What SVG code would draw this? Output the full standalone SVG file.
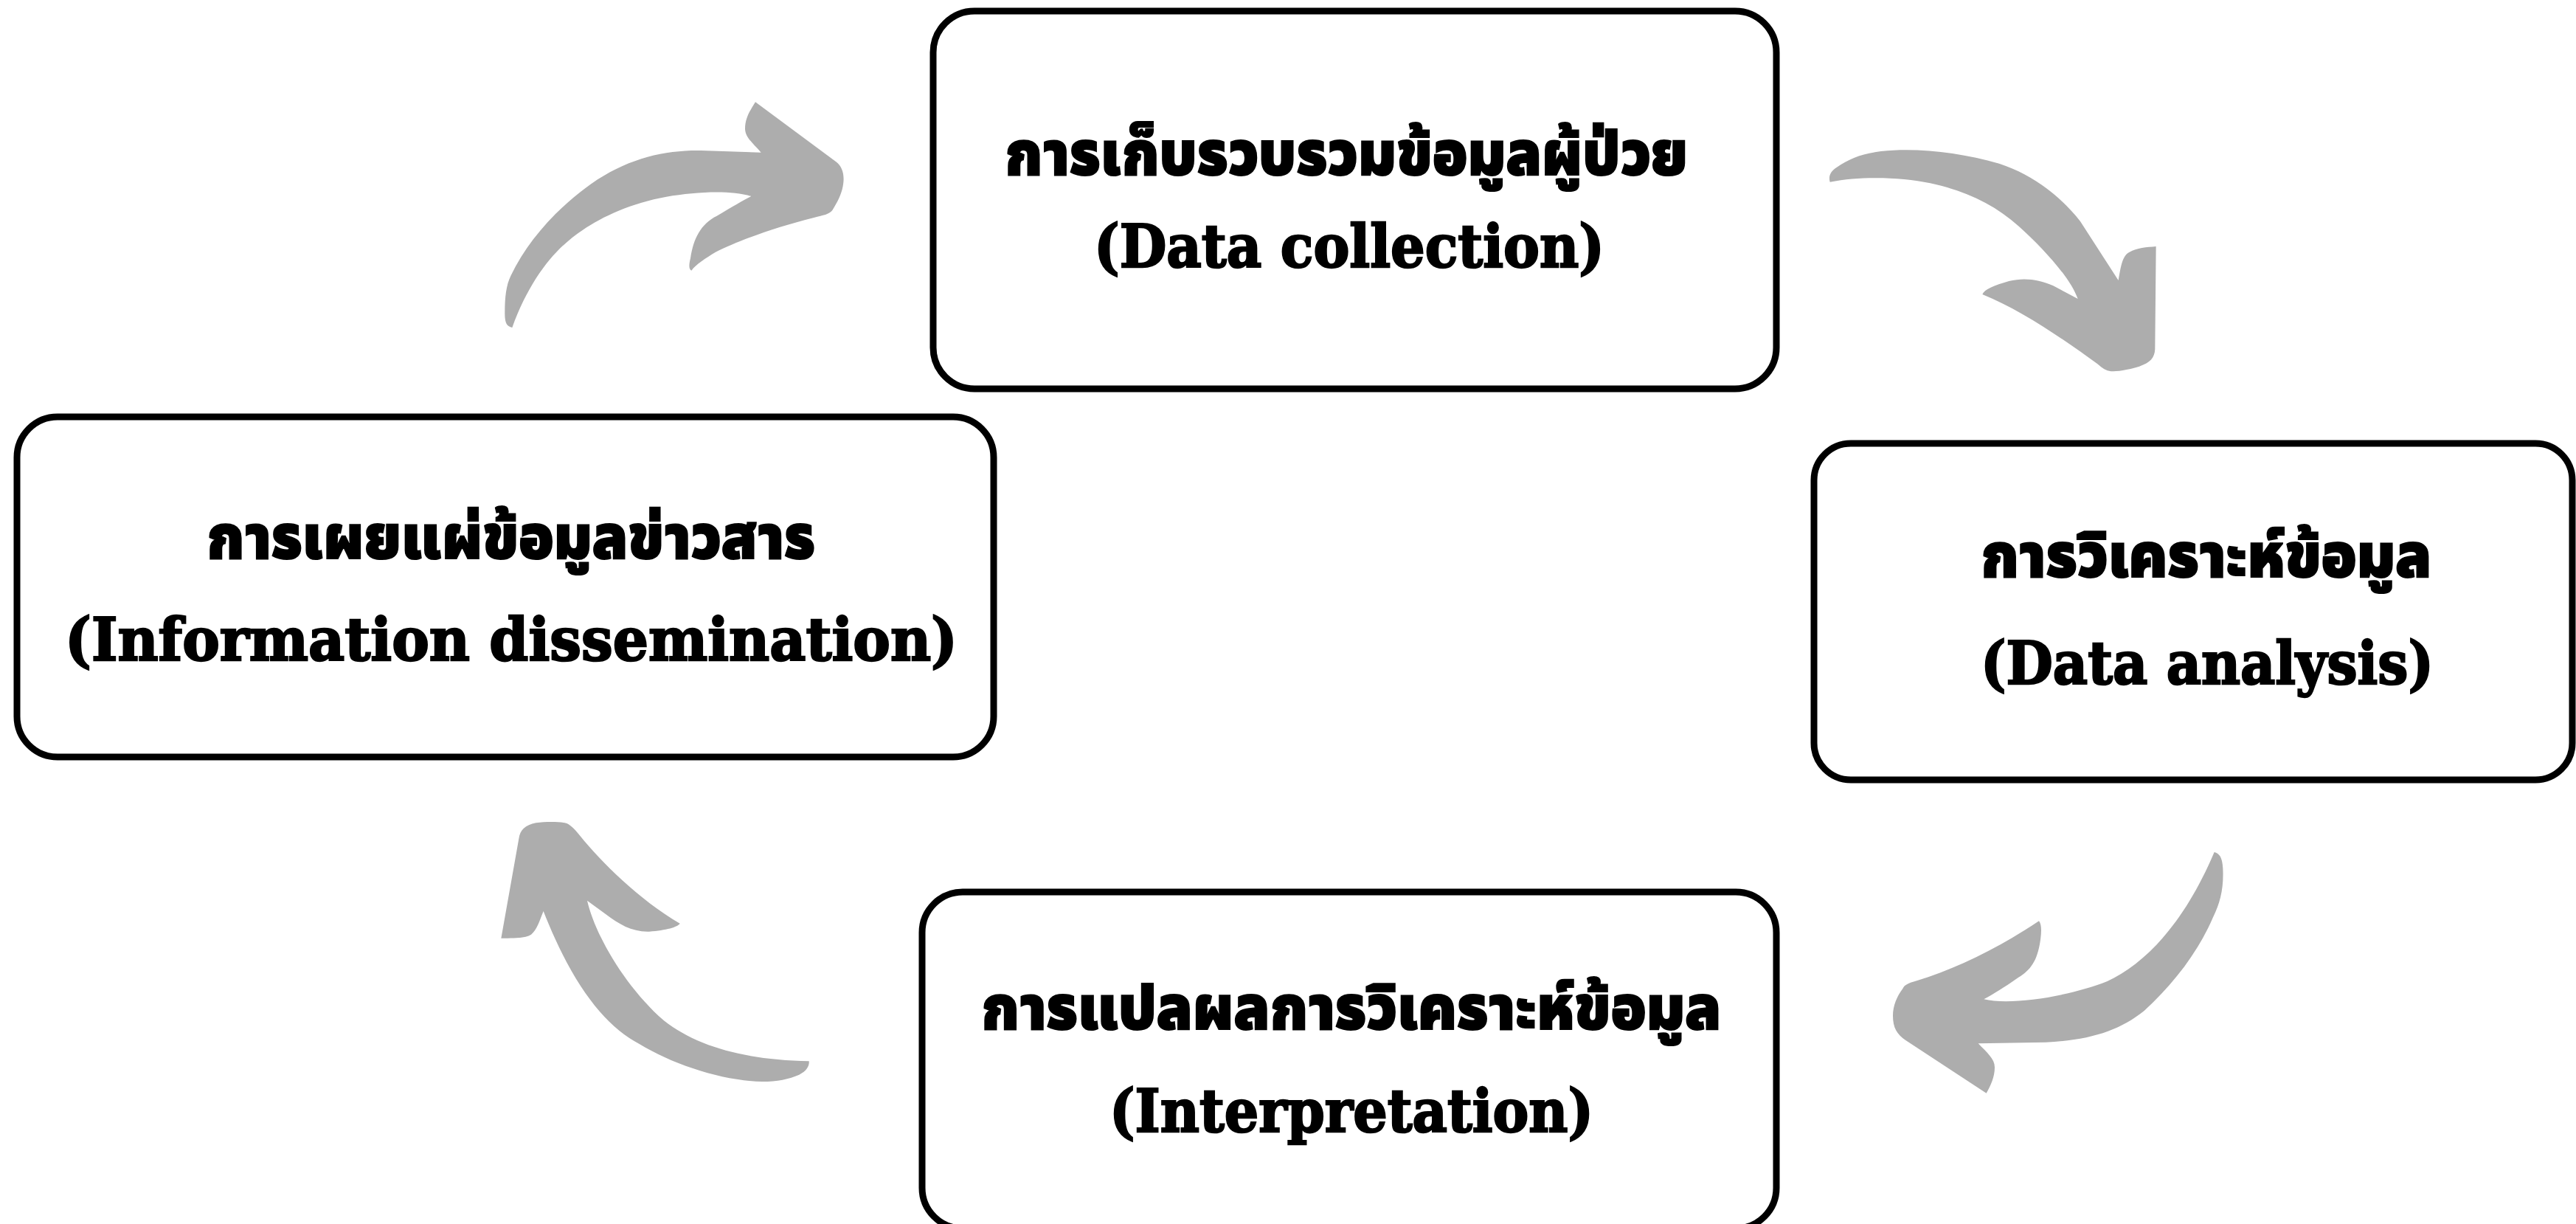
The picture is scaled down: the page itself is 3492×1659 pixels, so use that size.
<svg xmlns="http://www.w3.org/2000/svg" width="3492" height="1659" viewBox="0 0 3492 1659">
  <style>
    .box { fill: #ffffff; stroke: #000000; stroke-width: 9; }
    .th { font-family: "Noto Sans Thai", "Noto Sans Thai UI", "Noto Sans", "DejaVu Sans", sans-serif; font-weight: 900; font-size: 84px; fill: #000000; stroke: #000000; stroke-width: 2; }
    .en { font-family: "DejaVu Serif", "Liberation Serif", serif; font-weight: 700; font-size: 80px; fill: #000000; stroke: #000000; stroke-width: 2.5; }
    .arrow { fill: #adadad; stroke: none; }
  </style>
  <rect width="3492" height="1659" fill="#ffffff"/>

  <!-- curved cycle arrows -->
  <g id="connectors">
    <!-- dissemination -> collection -->
    <path class="arrow" transform="translate(650,120) scale(0.33333)" d="M133,972 C112,968 102,955 103,910 C103,850 108,800 128,760 C200,610 330,470 480,370 C620,280 760,250 900,252 L1145,260 C1110,220 1082,200 1080,165 C1080,120 1100,90 1122,55 L1450,298 C1485,325 1485,370 1475,410 C1465,445 1450,470 1435,495 C1420,512 1400,515 1360,525 C1200,565 1050,620 960,665 C920,690 880,715 862,740 C850,735 852,715 858,690 C870,610 900,550 965,518 C1030,480 1070,455 1105,438 C1020,412 880,420 760,440 C620,465 500,520 420,575 C320,640 210,760 133,972 Z"/>
    <!-- collection -> analysis -->
    <path class="arrow" transform="translate(2450,180) scale(0.33333)" d="M92,200 C85,175 95,155 120,140 C170,105 220,85 300,75 C450,60 620,80 780,125 C920,170 1030,260 1110,360 L1265,600 C1275,545 1280,500 1310,485 C1340,468 1380,465 1418,462 L1414,880 C1412,915 1395,935 1350,950 C1300,965 1260,970 1235,970 C1215,968 1200,958 1180,940 C1050,845 870,720 712,657 C718,638 760,620 820,603 C880,588 940,595 1000,622 L1100,675 C1070,590 960,470 860,380 C760,290 640,235 500,205 C380,180 220,175 92,200 Z"/>
    <!-- analysis -> interpretation -->
    <path class="arrow" transform="translate(2540,1130) scale(0.33333)" d="M1385,75 C1405,80 1418,95 1420,140 C1424,220 1410,280 1380,340 C1320,480 1220,610 1100,720 C1000,800 880,840 700,848 L425,853 C460,890 492,915 492,950 C492,990 475,1025 458,1055 L130,840 C95,815 78,790 78,740 C78,700 95,660 118,630 C125,615 140,608 175,598 C330,550 500,470 672,355 C685,370 682,410 675,450 C660,530 630,560 580,590 C530,625 490,650 448,673 C560,700 800,660 950,600 C1100,530 1260,370 1385,75 Z"/>
    <!-- interpretation -> dissemination -->
    <path class="arrow" transform="translate(640,1090) scale(0.33333)" d="M1370,1045 C1372,1065 1360,1085 1330,1100 C1290,1118 1240,1128 1180,1128 C1020,1125 820,1060 680,975 C540,900 410,740 290,435 C275,470 265,510 240,530 C215,545 170,545 118,545 L190,140 C195,105 215,85 260,76 C300,70 360,70 385,78 C405,88 420,105 440,130 C520,230 680,390 845,485 C835,500 790,512 720,518 C650,520 600,490 540,445 L468,392 C500,530 620,740 780,880 C920,990 1120,1040 1370,1045 Z"/>
  </g>

  <g id="node-collection">
    <rect class="box" x="1265" y="15" width="1143" height="512" rx="56" ry="56"/>
    <text class="th" x="1362" y="237" textLength="926" lengthAdjust="spacingAndGlyphs">การเก็บรวบรวมข้อมูลผู้ป่วย</text>
    <text class="en" x="1483" y="362" textLength="692" lengthAdjust="spacingAndGlyphs">(Data collection)</text>
  </g>

  <g id="node-analysis">
    <rect class="box" x="2459" y="601" width="1028" height="456" rx="50" ry="50"/>
    <text class="th" x="2685" y="782" textLength="611" lengthAdjust="spacingAndGlyphs">การวิเคราะห์ข้อมูล</text>
    <text class="en" x="2685" y="927" textLength="614" lengthAdjust="spacingAndGlyphs">(Data analysis)</text>
  </g>

  <g id="node-interpretation">
    <rect class="box" x="1250" y="1209" width="1158" height="456" rx="55" ry="55"/>
    <text class="th" x="1330" y="1395" textLength="1003" lengthAdjust="spacingAndGlyphs">การแปลผลการวิเคราะห์ข้อมูล</text>
    <text class="en" x="1504" y="1534" textLength="656" lengthAdjust="spacingAndGlyphs">(Interpretation)</text>
  </g>

  <g id="node-dissemination">
    <rect class="box" x="23" y="565" width="1324" height="461" rx="55" ry="55"/>
    <text class="th" x="280" y="757" textLength="825" lengthAdjust="spacingAndGlyphs">การเผยแผ่ข้อมูลข่าวสาร</text>
    <text class="en" x="88" y="895" textLength="1210" lengthAdjust="spacingAndGlyphs">(Information dissemination)</text>
  </g>
</svg>
